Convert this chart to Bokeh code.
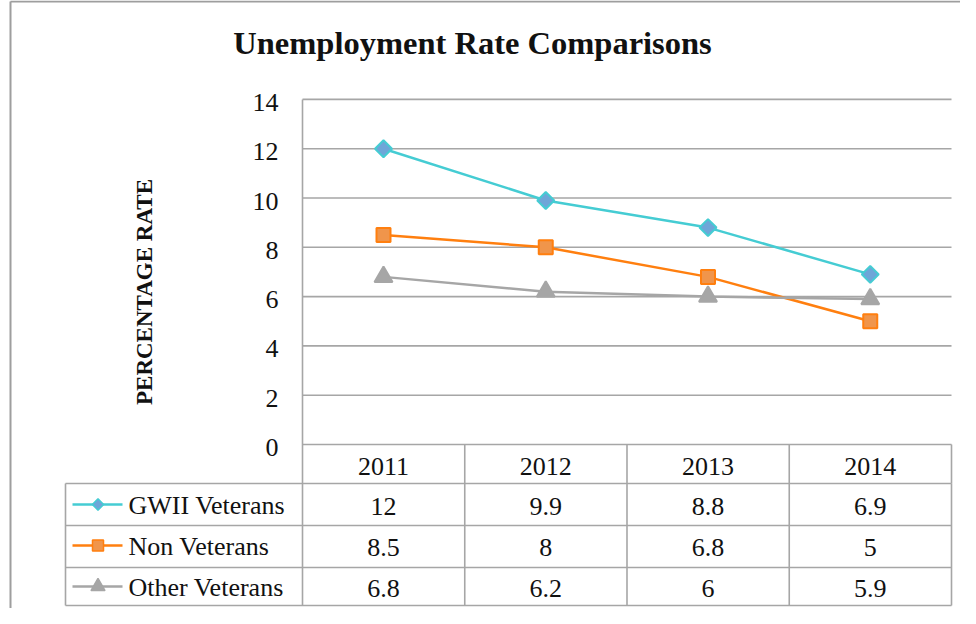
import math
from bokeh.plotting import figure
from bokeh.models import Range1d
from bokeh.core.properties import value
from bokeh.embed import file_html
from bokeh.resources import INLINE

# ---------------- data ----------------
years = ["2011", "2012", "2013", "2014"]
series_names = ["GWII Veterans", "Non Veterans", "Other Veterans"]
gwii = [12, 9.9, 8.8, 6.9]
non_vets = [8.5, 8, 6.8, 5]
other_vets = [6.8, 6.2, 6, 5.9]
y_ticks = [0, 2, 4, 6, 8, 10, 12, 14]
title_text = "Unemployment Rate Comparisons"
y_label = "PERCENTAGE RATE"

# ---------------- layout (reference pixels) ----------------
W, H = 960, 608
OFFX, OFFY = 0, 6
COL_W = 162.25          # px per category
PX_PER_UNIT = 24.65     # px per percentage point
X0_PAGE = 383           # centre of first category
Y0_PAGE = 450           # value 0
plot_left, plot_right, plot_top = 302, 951, 105
table_left = 65
header_top, header_bot = 450, 489
row_tops = [489, 531, 573]
table_bot = 611

x_start = -(X0_PAGE - OFFX) / COL_W
x_end = x_start + W / COL_W
y_end = (Y0_PAGE - OFFY) / PX_PER_UNIT
y_start = y_end - H / PX_PER_UNIT


def fx(px):
    return x_start + (px - OFFX) / COL_W


def fy(py):
    return y_end - (py - OFFY) / PX_PER_UNIT


p = figure(width=W, height=H, output_backend="svg", toolbar_location=None,
           x_range=Range1d(x_start, x_end), y_range=Range1d(y_start, y_end),
           x_axis_type=None, y_axis_type=None, min_border=0,
           background_fill_color="white", border_fill_color="white")
p.grid.visible = False
p.outline_line_color = None

FONT = value("Liberation Serif")
GRID = "#A6A6A6"
TXT = "#111111"
FS = "26px"

# outer chart border (left & top visible)
p.segment(x0=[fx(10), fx(10)], y0=[fy(7), fy(7)], x1=[fx(10), fx(960)],
          y1=[fy(640), fy(7)], line_color="#9E9E9E", line_width=2)

# title
p.text(x=[fx(472)], y=[fy(48.5)], text=[title_text], text_font=FONT,
       text_font_size="32.5px", text_font_style="bold", text_align="center",
       text_baseline="middle", text_color=TXT)

# y label
p.text(x=[fx(143.5)], y=[fy(297.5)], text=[y_label], text_font=FONT,
       text_font_size="23px", text_font_style="bold", text_align="center",
       text_baseline="middle", angle=math.pi / 2, text_color=TXT)

# gridlines + tick labels
p.segment(x0=[fx(plot_left)] * len(y_ticks), y0=y_ticks,
          x1=[fx(plot_right)] * len(y_ticks), y1=y_ticks,
          line_color=GRID, line_width=1.6)
p.text(x=[fx(278)] * len(y_ticks), y=[t - 3 / PX_PER_UNIT for t in y_ticks],
       text=[str(t) for t in y_ticks], text_font=FONT, text_font_size=FS,
       text_align="right", text_baseline="middle", text_color=TXT)

# left axis line (plot area + header row)
p.segment(x0=[fx(plot_left)], y0=[fy(plot_top)], x1=[fx(plot_left)], y1=[fy(header_bot)],
          line_color=GRID, line_width=1.6)

# table lines
col_edges = [plot_left + i * COL_W for i in range(len(years) + 1)]
p.segment(x0=[fx(c) for c in col_edges[1:]], y0=[fy(header_top)] * len(years),
          x1=[fx(c) for c in col_edges[1:]], y1=[fy(header_bot)] * len(years),
          line_color=GRID, line_width=1.6)
body_x = [table_left] + col_edges
p.segment(x0=[fx(c) for c in body_x], y0=[fy(header_bot)] * len(body_x),
          x1=[fx(c) for c in body_x], y1=[fy(table_bot)] * len(body_x),
          line_color=GRID, line_width=1.6)
h_lines = row_tops + [table_bot]
p.segment(x0=[fx(table_left)] * len(h_lines), y0=[fy(h) for h in h_lines],
          x1=[fx(plot_right)] * len(h_lines), y1=[fy(h) for h in h_lines],
          line_color=GRID, line_width=1.6)

# header year labels
p.text(x=list(range(len(years))), y=[fy(472)] * len(years), text=years,
       text_font=FONT, text_font_size=FS, text_align="center",
       text_baseline="middle", text_color=TXT)

styles = [
    dict(marker="square", angle=math.pi / 4, line="#45CCD3", fill="#6EA6D8", edge="#45CCD3",
         size=12, lsize=8),
    dict(marker="square", angle=0, line="#FF7F0F", fill="#F0954B", edge="#FF7F0F",
         size=14, lsize=11),
    dict(marker="triangle", angle=0, line="#A6A6A6", fill="#A6A6A6", edge="#A6A6A6",
         size=18, lsize=14),
]
all_series = [gwii, non_vets, other_vets]
xs = list(range(len(years)))
text_centres = [512, 553, 594]

for vals, name, st, rt, tc in zip(all_series, series_names, styles, row_tops, text_centres):
    p.line(xs, vals, line_color=st["line"], line_width=2.5)
    p.scatter(xs, vals, marker=st["marker"], angle=st["angle"], size=st["size"],
              fill_color=st["fill"], line_color=st["edge"], line_width=2)
    p.text(x=xs, y=[fy(tc)] * len(xs), text=[f"{v:g}" for v in vals],
           text_font=FONT, text_font_size=FS, text_align="center",
           text_baseline="middle", text_color=TXT)
    cy = fy(tc - 2)
    p.segment(x0=[fx(72)], y0=[cy], x1=[fx(122)], y1=[cy], line_color=st["line"], line_width=2.5)
    p.scatter([fx(97.5)], [cy], marker=st["marker"], angle=st["angle"], size=st["lsize"],
              fill_color=st["fill"], line_color=st["edge"], line_width=1.5)
    p.text(x=[fx(128)], y=[fy(tc - 1)], text=[name], text_font=FONT,
           text_font_size=FS, text_align="left", text_baseline="middle",
           text_color=TXT)

open("out.html", "w").write(file_html(p, INLINE))
